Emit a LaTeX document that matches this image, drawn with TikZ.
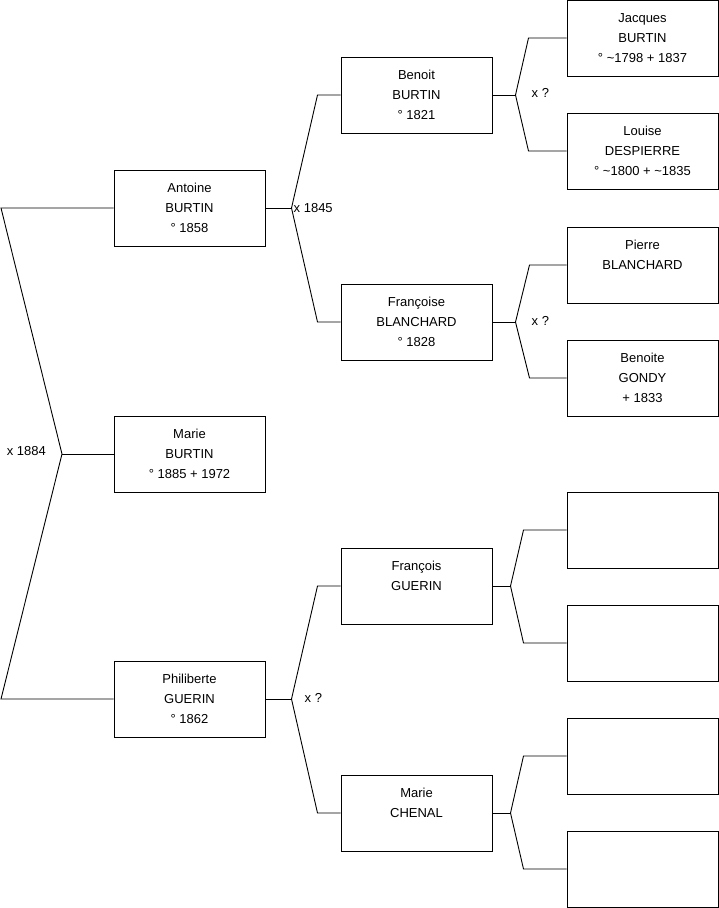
\documentclass[tikz,border=0pt]{standalone}
\usepackage{fontspec}
\setmainfont{Liberation Sans}
\usetikzlibrary{calc}

\tikzset{
  person/.style={draw, line width=1pt, minimum width=151pt, minimum height=76pt,
    inner sep=0pt, align=center, font=\fontsize{13}{20}\selectfont},
  link/.style={line width=0.9pt},
  wed/.style={inner sep=0pt, font=\fontsize{13}{16}\selectfont}
}

\begin{document}
\begin{tikzpicture}[x=1pt, y=-1pt]
  \useasboundingbox (0,0) rectangle (719,908);
  % generation 1
  \node[person] (antoine) at (189.5,208) {Antoine\\BURTIN\\° 1858};
  \node[person] (marie) at (189.5,454) {Marie\\BURTIN\\° 1885 + 1972};
  \node[person] (philiberte) at (189.5,699) {Philiberte\\GUERIN\\° 1862};
  % generation 2
  \node[person] (benoit) at (416.5,95) {Benoit\\BURTIN\\° 1821};
  \node[person] (francoise) at (416.5,322) {Françoise\\BLANCHARD\\° 1828};
  \node[person] (francois) at (416.5,586) {François\\GUERIN\\\phantom{1}};
  \node[person] (chenal) at (416.5,813) {Marie\\CHENAL\\\phantom{1}};
  % generation 3
  \node[person] (jacques) at (642.5,38) {Jacques\\BURTIN\\° \textasciitilde1798 + 1837};
  \node[person] (louise) at (642.5,151) {Louise\\DESPIERRE\\° \textasciitilde1800 + \textasciitilde1835};
  \node[person] (pierre) at (642.5,265) {Pierre\\BLANCHARD\\\phantom{1}};
  \node[person] (benoite) at (642.5,378) {Benoite\\GONDY\\+ 1833};
  \node[person] (empty1) at (642.5,530) {};
  \node[person] (empty2) at (642.5,643) {};
  \node[person] (empty3) at (642.5,756) {};
  \node[person] (empty4) at (642.5,869) {};

  % parents of Marie
  \coordinate (m0) at (62,454);
  \coordinate (m0a) at (1,208);
  \coordinate (m0b) at (1,699);
  \draw[link] (antoine.west) -- (m0a) -- (m0) -- (m0b) -- (philiberte.west);
  \draw[link] (m0) -- (marie.west);
  \node[wed, anchor=east] (w0) at ($(m0)+(-16,-3)$) {x 1884};

  % parents of Antoine
  \coordinate (m1) at ($(antoine.east)+(26,0)$);
  \coordinate (m1a) at ($(benoit.west)+(-23,0)$);
  \coordinate (m1b) at ($(francoise.west)+(-23,0)$);
  \draw[link] (antoine.east) -- (m1);
  \draw[link] (benoit.west) -- (m1a) -- (m1) -- (m1b) -- (francoise.west);
  \node[wed, anchor=west] (w1) at ($(m1)+(2,0)$) {x 1845};

  % parents of Philiberte
  \coordinate (m2) at ($(philiberte.east)+(26,0)$);
  \coordinate (m2a) at ($(francois.west)+(-23,0)$);
  \coordinate (m2b) at ($(chenal.west)+(-23,0)$);
  \draw[link] (philiberte.east) -- (m2);
  \draw[link] (francois.west) -- (m2a) -- (m2) -- (m2b) -- (chenal.west);
  \node[wed, anchor=west] (w2) at ($(m2)+(13,-1)$) {x ?};

  % parents of Benoit
  \coordinate (m3) at ($(benoit.east)+(23,0)$);
  \coordinate (m3a) at ($(jacques.west)+(-38,0)$);
  \coordinate (m3b) at ($(louise.west)+(-38,0)$);
  \draw[link] (benoit.east) -- (m3);
  \draw[link] (jacques.west) -- (m3a) -- (m3) -- (m3b) -- (louise.west);
  \node[wed, anchor=west] (w3) at ($(m3)+(16,-2)$) {x ?};

  % parents of Françoise
  \coordinate (m4) at ($(francoise.east)+(23,0)$);
  \coordinate (m4a) at ($(pierre.west)+(-37,0)$);
  \coordinate (m4b) at ($(benoite.west)+(-37,0)$);
  \draw[link] (francoise.east) -- (m4);
  \draw[link] (pierre.west) -- (m4a) -- (m4) -- (m4b) -- (benoite.west);
  \node[wed, anchor=west] (w4) at ($(m4)+(16,-1)$) {x ?};

  % parents of François
  \coordinate (m5) at ($(francois.east)+(18,0)$);
  \coordinate (m5a) at ($(empty1.west)+(-43,0)$);
  \coordinate (m5b) at ($(empty2.west)+(-43,0)$);
  \draw[link] (francois.east) -- (m5);
  \draw[link] (empty1.west) -- (m5a) -- (m5) -- (m5b) -- (empty2.west);

  % parents of Marie Chenal
  \coordinate (m6) at ($(chenal.east)+(18,0)$);
  \coordinate (m6a) at ($(empty3.west)+(-43,0)$);
  \coordinate (m6b) at ($(empty4.west)+(-43,0)$);
  \draw[link] (chenal.east) -- (m6);
  \draw[link] (empty3.west) -- (m6a) -- (m6) -- (m6b) -- (empty4.west);
\end{tikzpicture}
\end{document}
